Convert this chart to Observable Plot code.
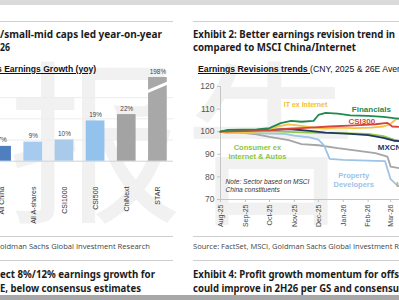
<!DOCTYPE html>
<html>
<head>
<meta charset="utf-8">
<script src="https://cdn.jsdelivr.net/npm/d3@7"></script>
<script src="https://cdn.jsdelivr.net/npm/@observablehq/plot@0.6"></script>
<style>
  body { margin: 0; background: #fff; }
  #page { position: relative; width: 399px; height: 300px; overflow: hidden; background: #fff;
          font-family: "Liberation Sans", Arial, sans-serif; }
  .abs { position: absolute; white-space: nowrap; }
  .title { font-family: "Noto Sans", sans-serif; font-weight: 700; font-size: 11px; line-height: 13px; color: #1b1b1b; }
  .sub { font-size: 8.7px; line-height: 10px; color: #111; }
  .src { font-family: "Open Sans", sans-serif; font-size: 7.5px; line-height: 9px; color: #444; }
  .rule { position: absolute; height: 1px; background: #cfcfcf; }
  .wm { font-family: "Noto Sans CJK SC", sans-serif; font-size: 175px; line-height: 1; color: #f1f1f1; }
  #growth svg, #revisions svg { max-width: none !important; }
</style>
</head>
<body>
<div id="page">
  <div class="abs" style="left:0;top:0;width:399px;height:5px;background:#dadada"></div>
  <div class="abs wm" style="left:8px;top:45px">报告</div>

  <div class="rule" style="left:0;top:21px;width:173px"></div>
  <div class="rule" style="left:193px;top:21px;width:206px"></div>

  <div class="abs title" data-w="162" style="left:0;top:26.5px">/small-mid caps led year-on-year</div>
  <div class="abs title" data-w="10" style="left:0;top:39.5px">26</div>
  <div class="abs sub" data-w="99" style="left:-3px;top:64px;font-weight:700;text-decoration:underline">s Earnings Growth (yoy)</div>

  <div class="abs title" data-w="202" style="left:193px;top:26.5px">Exhibit 2: Better earnings revision trend in</div>
  <div class="abs title" data-w="163" style="left:193px;top:39.5px">compared to MSCI China/Internet</div>
  <div class="abs sub" style="left:198px;top:64px"><span style="font-weight:700;text-decoration:underline">Earnings Revisions trends </span>(CNY, 2025 &amp; 26E Average)</div>

  <div id="growth" class="abs" style="left:-14px;top:0;width:187px;height:229px"></div>
  <div id="revisions" class="abs" style="left:190px;top:76px;width:225px;height:158px"></div>

  <div class="rule" style="left:0;top:236px;width:173px"></div>
  <div class="rule" style="left:193px;top:236px;width:206px"></div>
  <div class="abs src" data-w="150" style="left:0;top:241.5px">oldman Sachs Global Investment Research</div>
  <div class="abs src" data-w="206" style="left:193px;top:241.5px">Source: FactSet, MSCI, Goldman Sachs Global Investment R</div>
  <div class="rule" style="left:0;top:260px;width:173px"></div>
  <div class="rule" style="left:193px;top:260px;width:206px"></div>

  <div class="abs title" data-w="155" style="left:0;top:266.5px">ect 8%/12% earnings growth for</div>
  <div class="abs title" data-w="141" style="left:0;top:280.5px">E, below consensus estimates</div>
  <div class="abs title" data-w="206" style="left:193px;top:266.5px">Exhibit 4: Profit growth momentum for offs</div>
  <div class="abs title" data-w="206" style="left:193px;top:280.5px">could improve in 2H26 per GS and consensu</div>

  <div class="abs" style="left:0;top:295px;width:399px;height:5px;background:#a8a8a8"></div>
</div>

<script>
// ---- Earnings growth (yoy) by index ----
const categories = ["All China", "All A-shares", "CSI1000", "CSI500", "ChiNext", "STAR"];
const growth = [7, 9, 10, 19, 22, 198];
const barColors = ["#4f7fbf", "#a6cbef", "#a9cae8", "#93c2ec", "#a3a3a3", "#a8a8a8"];
const growthGrid = [10, 20, 30];
const growthTop = 39.5; // value axis is broken above this level

// ---- Earnings revision trends (rebased to 100) ----
const monthTicks = ["2025-08-01", "2025-09-01", "2025-10-01", "2025-11-01", "2025-12-01", "2026-01-01", "2026-02-01", "2026-03-01"];
const revisionTicks = [70, 80, 90, 100, 110, 120];

const internet = [["2025-08-01",100],["2025-08-20",99.8],["2025-09-15",98.8],["2025-10-01",97.7],["2025-10-25",96.3],["2025-11-10",94.5],["2025-12-01",94],["2025-12-25",92.7],["2026-01-20",91.5],["2026-02-10",90.5],["2026-02-25",89],["2026-03-01",84.5],["2026-03-25",83]];
const property = [["2025-08-01",100],["2025-08-20",99.6],["2025-09-20",99.3],["2025-10-20",99],["2025-11-01",98.3],["2025-11-20",97.5],["2025-12-01",96.5],["2025-12-08",94],["2025-12-15",88],["2026-01-01",87.5],["2026-02-01",87.2],["2026-02-22",87],["2026-03-01",79],["2026-03-10",76],["2026-03-25",75.2]];
const consumer = [["2025-08-01",100],["2025-09-01",100.2],["2025-10-01",100.3],["2025-11-01",99.8],["2025-12-01",99.5],["2026-01-01",99.4],["2026-02-01",99],["2026-02-20",98],["2026-03-05",96.5],["2026-03-25",95.2]];
const mxcn = [["2025-08-01",100],["2025-09-01",100.3],["2025-10-01",100.8],["2025-10-25",101.2],["2025-11-20",100.4],["2025-12-10",99.6],["2026-01-10",99],["2026-02-01",98.5],["2026-02-20",97.3],["2026-03-05",96],["2026-03-25",95.4]];
const itExInternet = [["2025-08-01",100],["2025-08-08",99.4],["2025-08-25",99.6],["2025-09-15",100],["2025-09-30",100.6],["2025-10-12",102.4],["2025-10-25",103.2],["2025-11-10",102.6],["2025-11-25",101.8],["2025-12-10",101.4],["2025-12-25",101.8],["2026-01-15",101.6],["2026-02-05",101.8],["2026-02-20",102.3],["2026-03-01",103.5],["2026-03-08",105.6],["2026-03-25",106.6]];
const csi300 = [["2025-08-01",100],["2025-09-01",100.3],["2025-10-01",100.6],["2025-10-20",101.2],["2025-11-15",101.7],["2025-12-15",102.3],["2026-01-15",102.8],["2026-02-10",103.3],["2026-02-25",103.9],["2026-03-03",102.3],["2026-03-25",101.8]];
const financials = [["2025-08-01",100],["2025-08-10",100.8],["2025-09-15",101],["2025-10-01",101.6],["2025-10-15",103.8],["2025-10-28",104.8],["2025-11-10",104.4],["2025-11-25",104.8],["2025-12-01",107.4],["2025-12-10",108.3],["2025-12-25",108],["2026-01-10",107.2],["2026-02-01",107],["2026-02-20",106.6],["2026-03-05",106],["2026-03-25",105.4]];

const seriesList = [
  {name: "Internet", color: "#a5a5a5", values: internet},
  {name: "Property Developers", color: "#9dc3e6", values: property},
  {name: "Consumer ex Internet & Autos", color: "#92c84a", values: consumer},
  {name: "MXCN", color: "#1f3864", values: mxcn},
  {name: "IT ex Internet", color: "#f5c342", values: itExInternet},
  {name: "CSI300", color: "#d9443a", values: csi300},
  {name: "Financials", color: "#1f8a50", values: financials}
];

const seriesLabels = [
  {text: "IT ex Internet", date: "2025-11-15", value: 112.2, color: "#f2be32", size: 7, anchor: "middle"},
  {text: "Financials", date: "2026-02-05", value: 110, color: "#1f8a50", size: 8, anchor: "middle"},
  {text: "CSI300", date: "2026-01-24", value: 104.6, color: "#d9443a", size: 8, anchor: "middle"},
  {text: "MXCN", date: "2026-02-13", value: 93.1, color: "#1f3864", size: 8, anchor: "start"},
  {text: "Consumer ex\nInternet & Autos", date: "2025-09-16", value: 91.2, color: "#8cc63f", size: 7.5, anchor: "middle"},
  {text: "Property\nDevelopers", date: "2026-01-14", value: 78.8, color: "#9dc3e6", size: 7.5, anchor: "middle"},
  {text: "Internet", date: "2026-03-08", value: 76.8, color: "#a5a5a5", size: 7.5, anchor: "start"}
];
const note = "Note: Sector based on MSCI\nChina constituents";

const chartStyle = {background: "transparent", overflow: "visible", maxWidth: "none", fontFamily: "'Liberation Sans', Arial, sans-serif"};

// Bar chart
const bars = categories.map((name, i) => ({i, name, value: growth[i], color: barColors[i]}));
const starIndex = categories.indexOf("STAR");

const growthChart = Plot.plot({
  width: 187, height: 229,
  marginLeft: 0, marginRight: 0, marginTop: 77, marginBottom: 45,
  style: chartStyle,
  x: {domain: [-0.5, categories.length - 0.5]},
  y: {domain: [-11, growthTop], axis: null},
  color: {type: "identity"},
  marks: [
    Plot.ruleY(growthGrid, {stroke: "#ececec"}),
    Plot.ruleY([0], {stroke: "#d2d2d2"}),
    Plot.rectY(bars, {x1: d => d.i - 0.3, x2: d => d.i + 0.3, y1: 0, y2: "value", fill: "color", clip: true}),
    // axis-break stripe across the truncated bar
    Plot.link([starIndex], {x1: d => d - 0.36, x2: d => d + 0.36, y1: () => growthTop - 6.8, y2: () => growthTop - 2.3, stroke: "white", strokeWidth: 3}),
    Plot.text(bars, {x: "i", y: d => Math.min(d.value, growthTop), dy: -6, text: d => `${d.value}%`, fontSize: 6.4, fill: "#444"}),
    Plot.axisX(bars.map(d => d.i), {tickFormat: i => categories[i], tickRotate: -90, tickSize: 0, tickPadding: 2, fontSize: 7, fill: "#333", label: null})
  ]
});
document.getElementById("growth").append(growthChart);

// Line chart
const parse = s => new Date(s + "T00:00:00Z");
const rows = seriesList.flatMap(s => s.values.map(([d, v]) => ({series: s.name, color: s.color, date: parse(d), value: v})));
const xStart = parse("2025-08-01");

const revisionChart = Plot.plot({
  width: 225, height: 158,
  marginLeft: 30, marginRight: 0, marginTop: 10, marginBottom: 35,
  style: chartStyle,
  x: {type: "utc", domain: [xStart, parse("2026-04-01")]},
  y: {domain: [70, 120]},
  color: {type: "identity"},
  marks: [
    Plot.ruleY([70], {stroke: "#c4c4c4"}),
    Plot.ruleX([xStart], {stroke: "#c4c4c4"}),
    Plot.axisY(revisionTicks, {tickSize: 3, tickPadding: 3, stroke: "#c4c4c4", fill: "#555", fontSize: 8.5, label: null}),
    Plot.axisX(monthTicks.map(parse), {tickFormat: d3.utcFormat("%b-%y"), tickRotate: -90, tickSize: 3, tickPadding: 2, stroke: "#c4c4c4", fill: "#444", fontSize: 7, label: null}),
    Plot.line(rows, {x: "date", y: "value", z: "series", stroke: "color", strokeWidth: 1.8}),
    ...seriesLabels.map(l => Plot.text([l], {
      x: d => parse(d.date), y: "value", text: "text", fill: "color",
      fontSize: l.size, fontWeight: "bold", textAnchor: l.anchor, lineHeight: 1.15
    })),
    Plot.text([note], {frameAnchor: "bottom-left", text: d => d, dx: 5, dy: -7.5, lineAnchor: "bottom",
      fontStyle: "italic", fontSize: 6.6, lineHeight: 1.2, fill: "#333"})
  ]
});
document.getElementById("revisions").append(revisionChart);

// Fit heading lines to their column widths
function fitText() {
  document.querySelectorAll("[data-w]").forEach(el => {
    el.style.transform = "none";
    const w = el.getBoundingClientRect().width;
    if (w > 0) {
      el.style.transformOrigin = "0 0";
      el.style.transform = `scaleX(${(+el.dataset.w / w).toFixed(4)})`;
    }
  });
}
fitText();
if (document.fonts && document.fonts.ready) document.fonts.ready.then(fitText);
</script>
</body>
</html>
